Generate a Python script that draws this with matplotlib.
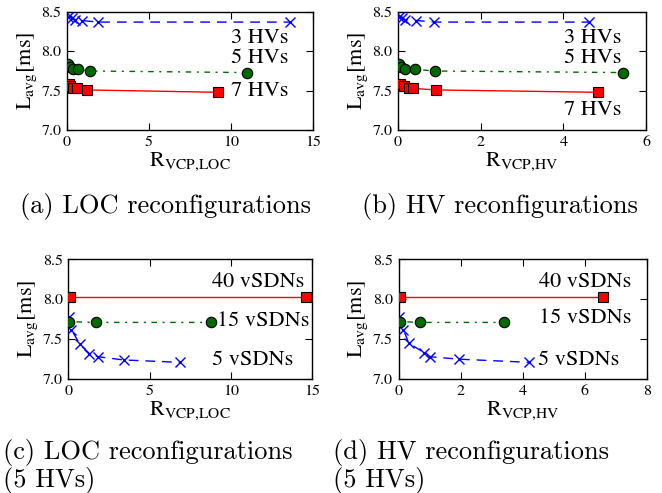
import matplotlib
matplotlib.use("Agg")
import matplotlib.pyplot as plt

plt.rcParams['mathtext.fontset'] = 'stix'
plt.rcParams['font.family'] = ['STIXGeneral', 'DejaVu Serif']

# (a) LOC reconfigurations
a_hv3_x = [0.05, 0.3, 0.5, 0.9, 1.9, 13.6]
a_hv3_y = [8.44, 8.42, 8.40, 8.39, 8.37, 8.37]
a_hv5_x = [0.05, 0.2, 0.36, 0.65, 1.38, 11.0]
a_hv5_y = [7.84, 7.80, 7.78, 7.77, 7.75, 7.73]
a_hv7_x = [0.1, 0.2, 0.35, 0.6, 1.2, 9.2]
a_hv7_y = [7.59, 7.56, 7.54, 7.53, 7.51, 7.48]

# (b) HV reconfigurations
b_hv3_x = [0.03, 0.1, 0.18, 0.45, 0.88, 4.63]
b_hv3_y = [8.44, 8.42, 8.40, 8.39, 8.37, 8.37]
b_hv5_x = [0.02, 0.08, 0.18, 0.42, 0.9, 5.43]
b_hv5_y = [7.84, 7.80, 7.78, 7.77, 7.75, 7.73]
b_hv7_x = [0.06, 0.14, 0.26, 0.36, 0.92, 4.83]
b_hv7_y = [7.59, 7.56, 7.54, 7.53, 7.51, 7.48]

# (c) LOC reconfigurations (5 HVs)
c_v40_x = [0.05, 0.1, 14.6]
c_v40_y = [8.03, 8.03, 8.03]
c_v15_x = [0.04, 1.68, 8.8]
c_v15_y = [7.72, 7.71, 7.71]
c_v5_x = [0.05, 0.2, 0.7, 1.3, 1.85, 3.4, 6.85]
c_v5_y = [7.78, 7.62, 7.44, 7.32, 7.28, 7.24, 7.21]

# (d) HV reconfigurations (5 HVs)
d_v40_x = [0.03, 0.05, 6.58]
d_v40_y = [8.03, 8.03, 8.03]
d_v15_x = [0.04, 0.7, 3.41]
d_v15_y = [7.72, 7.71, 7.71]
d_v5_x = [0.02, 0.16, 0.33, 0.83, 1.02, 1.94, 4.21]
d_v5_y = [7.78, 7.62, 7.45, 7.33, 7.28, 7.25, 7.21]

yticks = [7.0, 7.5, 8.0, 8.5]
xticks_loc = [0, 5, 10, 15]
xticks_hv6 = [0, 2, 4, 6]
xticks_hv8 = [0, 2, 4, 6, 8]

captions = ["(a) LOC reconfigurations", "(b) HV reconfigurations",
            "(c) LOC reconfigurations\n(5 HVs)", "(d) HV reconfigurations\n(5 HVs)"]

BLUE = '#0000ff'
GREEN = '#006a00'
RED = '#ff0000'
ANN = 16

fig = plt.figure(figsize=(6.62, 4.93), dpi=100)
axa = fig.add_axes([0.101, 0.736, 0.372, 0.240])
axb = fig.add_axes([0.601, 0.736, 0.375, 0.240])
axc = fig.add_axes([0.103, 0.231, 0.369, 0.243])
axd = fig.add_axes([0.602, 0.231, 0.375, 0.243])


def series(ax, x, y, kind):
    if kind == 'x':
        ax.plot(x, y, color=BLUE, linestyle=(0, (7, 5)), linewidth=1.0,
                marker='x', markersize=7.5, markeredgewidth=1.0, zorder=3)
    elif kind == 'o':
        ax.plot(x, y, color=GREEN, linestyle=(0, (1.5, 4, 4, 4)), linewidth=1.0,
                marker='o', markersize=7.5, markerfacecolor=GREEN,
                markeredgecolor='black', markeredgewidth=0.8, zorder=3)
    else:
        ax.plot(x, y, color=RED, linestyle='-', linewidth=1.0,
                marker='s', markersize=7, markerfacecolor=RED,
                markeredgecolor='black', markeredgewidth=0.8, zorder=3)


def style(ax, xlim, xticks, xlabel):
    ax.set_xlim(*xlim)
    ax.set_ylim(7.0, 8.5)
    ax.set_xticks(xticks)
    ax.set_yticks(yticks)
    ax.set_yticklabels([f"{v:.1f}" for v in yticks])
    ax.tick_params(direction='in', top=True, right=True, length=5, width=0.8,
                   labelsize=11.5, pad=4)
    for s in ax.spines.values():
        s.set_linewidth(1.0)
    ax.set_xlabel(xlabel, fontsize=16, labelpad=1)
    ax.set_ylabel(r'$\mathrm{L_{avg}}$[ms]', fontsize=16, labelpad=2)


series(axa, a_hv3_x, a_hv3_y, 'x')
series(axa, a_hv5_x, a_hv5_y, 'o')
series(axa, a_hv7_x, a_hv7_y, 's')
style(axa, (0, 15), xticks_loc, r'$\mathrm{R_{VCP{,}LOC}}$')
axa.text(13.5, 8.17, '3 HVs', ha='right', va='center', fontsize=ANN)
axa.text(13.5, 7.91, '5 HVs', ha='right', va='center', fontsize=ANN)
axa.text(13.5, 7.50, '7 HVs', ha='right', va='center', fontsize=ANN)

series(axb, b_hv3_x, b_hv3_y, 'x')
series(axb, b_hv5_x, b_hv5_y, 'o')
series(axb, b_hv7_x, b_hv7_y, 's')
style(axb, (0, 6), xticks_hv6, r'$\mathrm{R_{VCP{,}HV}}$')
axb.text(5.4, 8.17, '3 HVs', ha='right', va='center', fontsize=ANN)
axb.text(5.4, 7.91, '5 HVs', ha='right', va='center', fontsize=ANN)
axb.text(5.4, 7.25, '7 HVs', ha='right', va='center', fontsize=ANN)

series(axc, c_v5_x, c_v5_y, 'x')
series(axc, c_v15_x, c_v15_y, 'o')
series(axc, c_v40_x, c_v40_y, 's')
style(axc, (0, 15), xticks_loc, r'$\mathrm{R_{VCP{,}LOC}}$')
axc.text(14.5, 8.21, '40 vSDNs', ha='right', va='center', fontsize=ANN)
axc.text(14.8, 7.72, '15 vSDNs', ha='right', va='center', fontsize=ANN)
axc.text(13.8, 7.24, '5 vSDNs', ha='right', va='center', fontsize=ANN)

series(axd, d_v5_x, d_v5_y, 'x')
series(axd, d_v15_x, d_v15_y, 'o')
series(axd, d_v40_x, d_v40_y, 's')
style(axd, (0, 8), xticks_hv8, r'$\mathrm{R_{VCP{,}HV}}$')
axd.text(7.5, 8.21, '40 vSDNs', ha='right', va='center', fontsize=ANN)
axd.text(7.5, 7.76, '15 vSDNs', ha='right', va='center', fontsize=ANN)
axd.text(7.1, 7.24, '5 vSDNs', ha='right', va='center', fontsize=ANN)

cap_kw = dict(fontsize=19, family=['cmr10', 'DejaVu Serif'], va='center')
fig.text(20 / 662, 1 - 206 / 493, captions[0], ha='left', **cap_kw)
fig.text(362 / 662, 1 - 206 / 493, captions[1], ha='left', **cap_kw)
fig.text(3 / 662, 1 - 466 / 493, captions[2], ha='left', linespacing=1.05, **cap_kw)
fig.text(333 / 662, 1 - 466 / 493, captions[3], ha='left', linespacing=1.05, **cap_kw)

fig.savefig('out.png', dpi=100, facecolor='white')
